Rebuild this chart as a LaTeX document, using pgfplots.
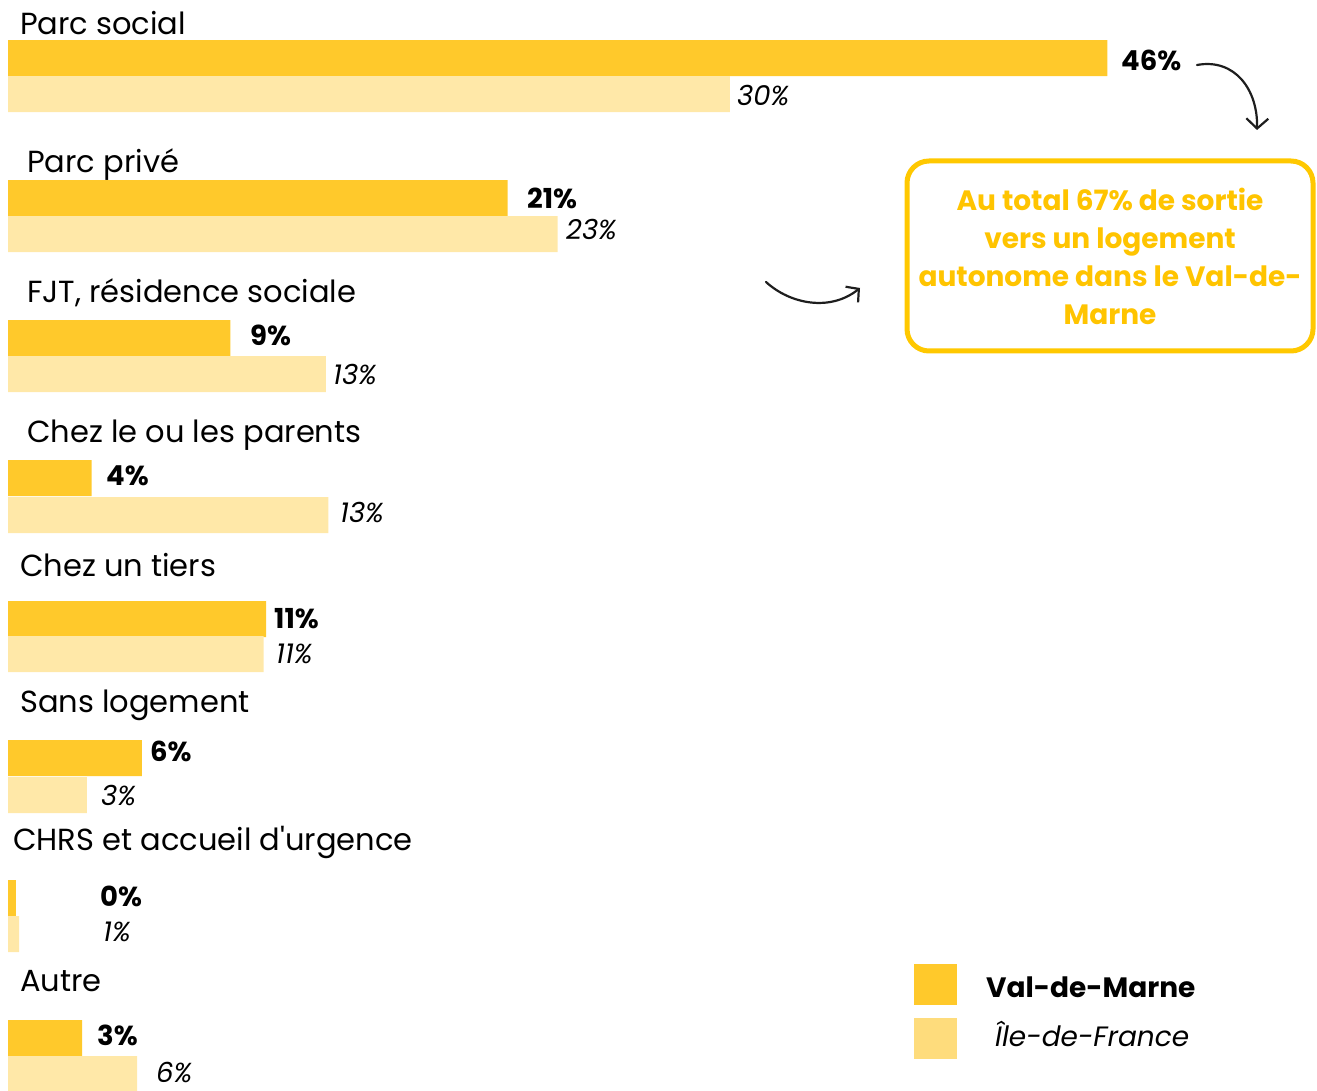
\documentclass[border=0pt]{standalone}
\usepackage{pgfplots}
\pgfplotsset{compat=1.18}
\usepackage{fontspec}
\setmainfont{Poppins}
\usetikzlibrary{arrows.meta}

\definecolor{vdm}{HTML}{FFC92B}
\definecolor{idf}{HTML}{FFE8A8}
\definecolor{idfleg}{HTML}{FEDC7C}
\definecolor{boxc}{HTML}{FFC800}
\definecolor{boxt}{HTML}{FFC400}
\definecolor{ink}{HTML}{1E1E1E}

\newcommand{\cat}{\fontsize{30.5}{36}\selectfont}
\newcommand{\vb}{\fontsize{27.5}{32}\selectfont\bfseries}
\newcommand{\vi}{\fontsize{27.5}{32}\selectfont\itshape}
\newcommand{\apos}{{\addfontfeatures{Ligatures=TeXOff}'}}

\begin{document}
\begin{tikzpicture}
\begin{axis}[
  scale only axis, width=1317pt, height=1090pt,
  hide axis,
  xmin=-0.335, xmax=54.77,
  ymin=0, ymax=1090, y dir=reverse,
  xbar, bar width=36, bar shift=0pt,
]
% Val-de-Marne (y = row position)
\addplot[draw=none, fill=vdm] table {
x     y
46.0  58
20.9  198
9.3   338
3.5   478
10.8  619
5.6   758
0.33  898
3.1   1038
};
% Ile-de-France
\addplot[draw=none, fill=idf] table {
x     y
30.2  94
23.0  234
13.3  374
13.4  515
10.7  654
3.3   795
0.46  934
5.4   1074
};
\end{axis}

\begin{scope}[shift={(0pt,1090pt)}, x=1pt, y=-1pt]
  % category labels
  \begin{scope}[every node/.style={anchor=base west, inner sep=0pt, text=black}]
    \node at (20,35)  {\cat Parc social};
    \node at (27,173) {\cat Parc privé};
    \node at (27,303) {\cat FJT, résidence sociale};
    \node at (27,443) {\cat Chez le ou les parents};
    \node at (20,577) {\cat Chez un tiers};
    \node at (20,713) {\cat Sans logement};
    \node at (13,851) {\cat CHRS et accueil d\apos urgence};
    \node at (20,991) {\cat Autre};
  \end{scope}
  % value labels
  \begin{scope}[every node/.style={anchor=west, inner sep=0pt, text=black}]
    \node at (1121,60)  {\vb 46\%};
    \node at (737,96)   {\vi 30\%};
    \node at (527,198)  {\vb 21\%};
    \node at (566,230)  {\vi 23\%};
    \node at (250,335)  {\vb 9\%};
    \node at (333,375)  {\vi 13\%};
    \node at (106,476)  {\vb 4\%};
    \node at (340,513)  {\vi 13\%};
    \node at (274,619)  {\vb 11\%};
    \node at (276,654)  {\vi 11\%};
    \node at (150,751)  {\vb 6\%};
    \node at (101,796)  {\vi 3\%};
    \node at (100,896)  {\vb 0\%};
    \node at (103,932)  {\vi 1\%};
    \node at (97,1035)  {\vb 3\%};
    \node at (156,1072) {\vi 6\%};
  \end{scope}
  % callout box
  \draw[boxc, line width=5pt, rounded corners=22pt] (907,161) rectangle (1313,351);
  \node[text=boxt, align=center, inner sep=0pt, font=\fontsize{28}{38}\selectfont\bfseries]
    at (1110,256) {Au total 67\% de sortie\\vers un logement\\autonome dans le Val-de-\\Marne};
  % hand-drawn arrows
  \draw[ink, line width=2.2pt, line cap=round, -{Straight Barb[length=10pt,width=22pt,line width=2.2pt]}]
    (1197,65) .. controls (1235,58) and (1258,90) .. (1257,130);
  \draw[ink, line width=2.2pt, line cap=round, -{Straight Barb[length=9pt,width=20pt,line width=2.2pt]}]
    (766,282) .. controls (790,304) and (830,312) .. (860,288);
  % legend
  \fill[vdm] (914,964) rectangle (957,1005);
  \fill[idfleg] (914,1018) rectangle (957,1059);
  \node[anchor=west, inner sep=0pt] at (986,987) {\fontsize{28}{32}\selectfont\bfseries Val-de-Marne};
  \node[anchor=west, inner sep=0pt] at (995,1034) {\fontsize{28}{32}\selectfont\itshape Île-de-France};
\end{scope}
\pgfresetboundingbox
\path[use as bounding box] (0,0) rectangle (1317pt,1090pt);
\end{tikzpicture}
\end{document}
